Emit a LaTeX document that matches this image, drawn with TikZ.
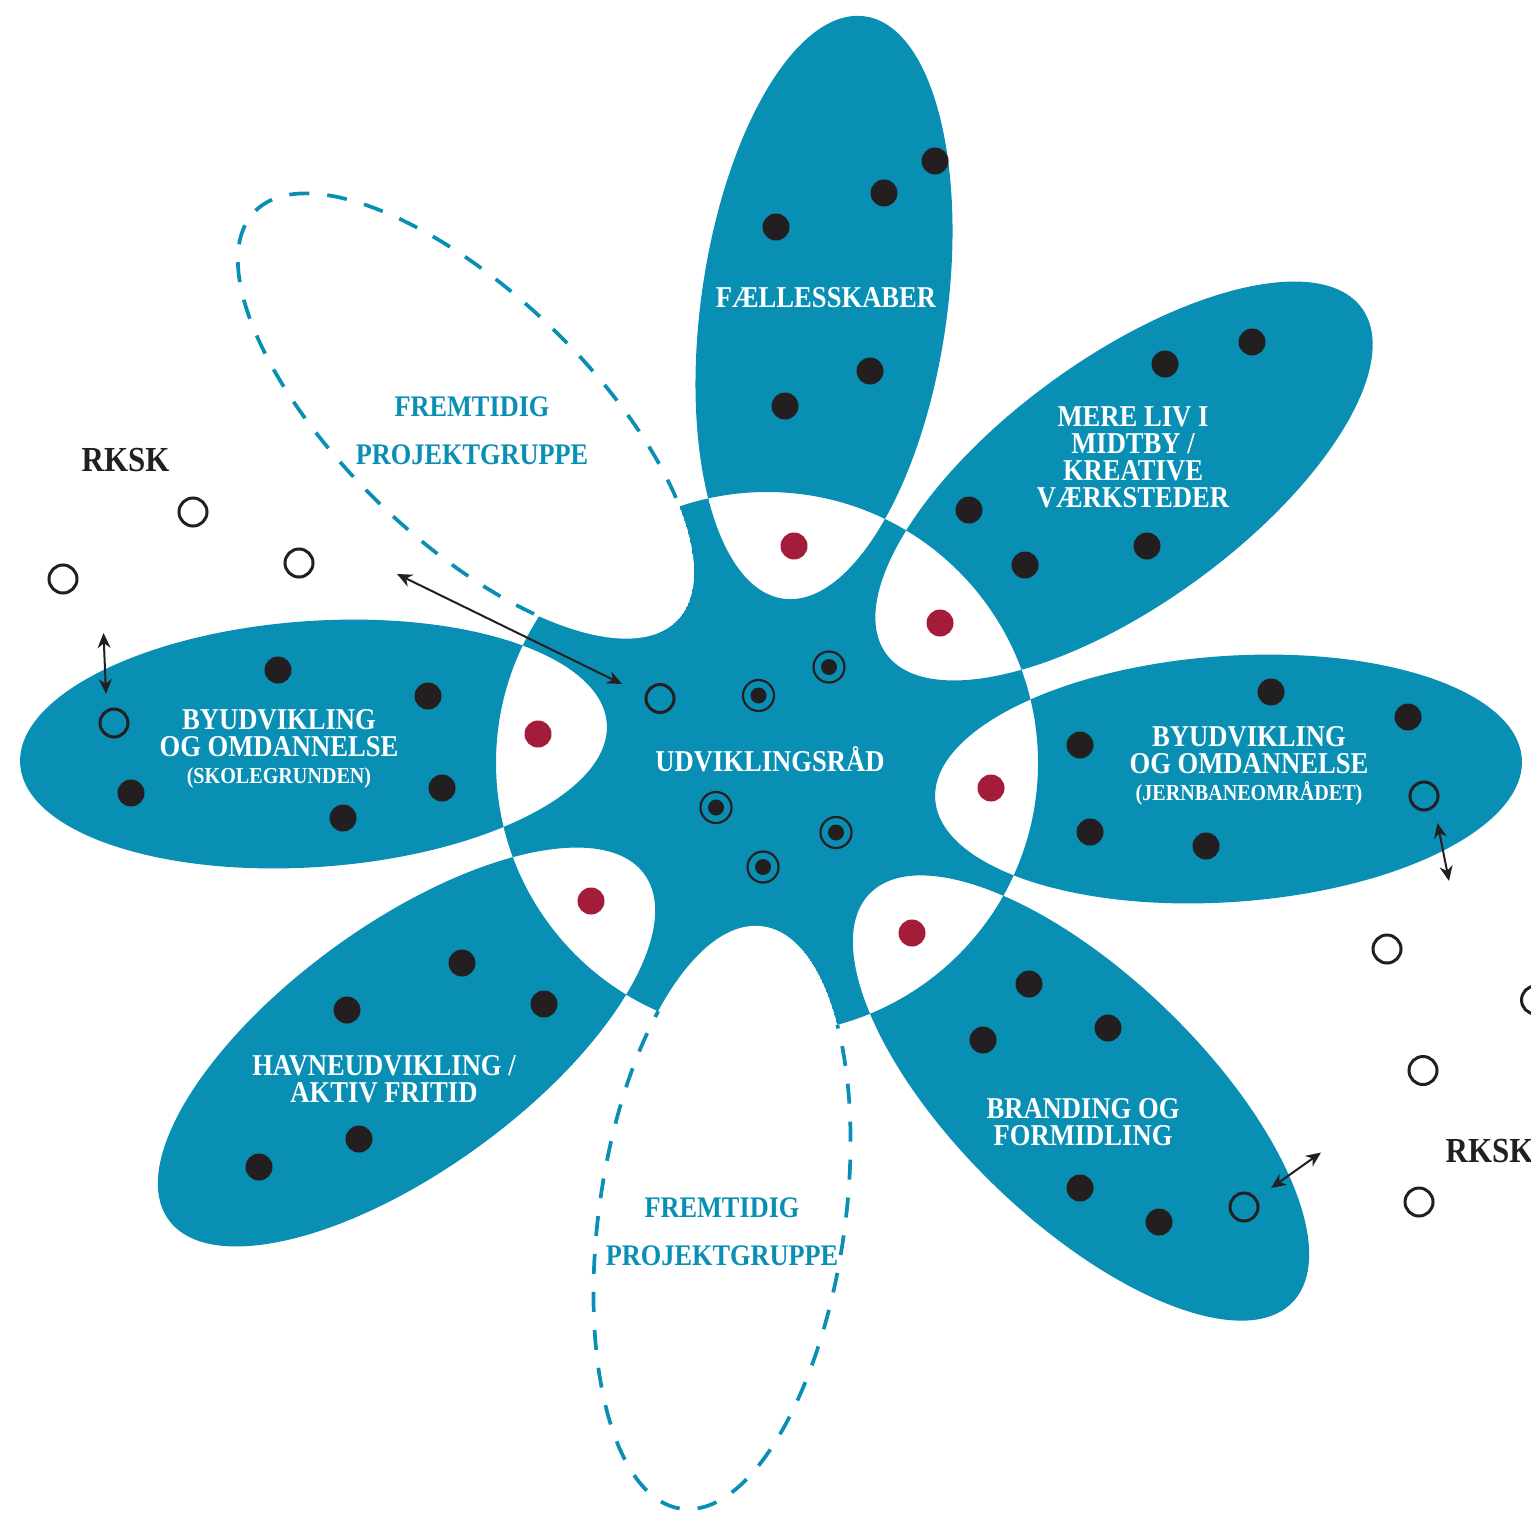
\documentclass[tikz,border=0pt]{standalone}
\usepackage{fontspec}
\setmainfont{Liberation Serif}[FakeStretch=0.88]
\usetikzlibrary{arrows.meta}
\definecolor{flower}{RGB}{10,143,180}
\definecolor{reddot}{RGB}{163,28,58}
\definecolor{ink}{RGB}{35,31,32}

\newcommand{\hubpath}{\pgfpathellipse{\pgfpointxy{767}{763}}{\pgfpointxy{271}{0}}{\pgfpointxy{0}{271}}}
\newcommand{\petalpath}[4]{\pgfpathellipse{\pgfpointxy{#1}{#2}}{\pgfpointpolarxy{#3}{294}}{\pgfpointpolarxy{#4}{123}}}
\newcommand{\allpetals}{%
 \petalpath{824}{307.5}{-82}{8}%
 \petalpath{1124}{481}{-36}{54}%
 \petalpath{1228.5}{779}{-4}{86}%
 \petalpath{1081}{1098}{44}{134}%
 \petalpath{406.5}{1047}{-36}{54}%
 \petalpath{313.5}{744}{-4}{86}}
\newcommand{\dashedA}{\petalpath{466}{416}{44}{134}}
\newcommand{\dashedB}{\petalpath{722}{1217.5}{-82}{8}}

\tikzset{
 bdot/.style={circle, fill=ink, inner sep=0pt, minimum size=2.7mm},
 rdot/.style={circle, fill=reddot, inner sep=0pt, minimum size=2.7mm},
 ring/.style={circle, draw=ink, line width=0.3mm, inner sep=0pt, minimum size=2.8mm},
 tring/.style={circle, draw=ink, line width=0.22mm, inner sep=0pt, minimum size=3.1mm},
 tdot/.style={circle, fill=ink, inner sep=0pt, minimum size=1.6mm},
 lab/.style={text=white, font=\bfseries\fontsize{8.6}{7.7}\selectfont, align=center, inner sep=0pt},
 future/.style={text=flower, font=\bfseries\fontsize{8.5}{13.7}\selectfont, align=center, inner sep=0pt},
 rksk/.style={text=ink, font=\bfseries\fontsize{10}{12}\selectfont, inner sep=0pt},
 dashline/.style={draw=flower, line width=0.37mm, dash pattern=on 2mm off 1.8mm},
 dbl/.style={draw=ink, line width=0.2mm, >={Stealth[length=1.5mm,width=1.3mm]}, <->}
}
\newcommand{\subline}{\fontsize{6.5}{7.2}\selectfont}

\begin{document}
\begin{tikzpicture}[x=0.01cm,y=-0.01cm]
\useasboundingbox (0,0) rectangle (1531,1512);
\clip (0,0) rectangle (1531,1512);

% flower body (even-odd)
\begin{scope}
 \pgfsetfillcolor{flower}
 \hubpath\allpetals
 \pgfseteorule
 \pgfusepath{fill}
\end{scope}
% bays of the dashed petals: inside each dashed ellipse only the petals count
\begin{scope}
 \dashedA\pgfusepath{clip}
 \pgfsetfillcolor{white}
 \dashedA\pgfusepath{fill}
 \pgfsetfillcolor{flower}
 \allpetals\pgfseteorule\pgfusepath{fill}
\end{scope}
\begin{scope}
 \dashedB\pgfusepath{clip}
 \pgfsetfillcolor{white}
 \dashedB\pgfusepath{fill}
 \pgfsetfillcolor{flower}
 \allpetals\pgfseteorule\pgfusepath{fill}
\end{scope}

% dashed outlines, only outside the hub
\begin{scope}
 \pgfpathmoveto{\pgfpointxy{0}{0}}
 \pgfpathlineto{\pgfpointxy{0}{1512}}
 \pgfpathlineto{\pgfpointxy{1531}{1512}}
 \pgfpathlineto{\pgfpointxy{1531}{0}}
 \pgfpathclose
 \hubpath
 \pgfseteorule
 \pgfusepath{clip}
 \draw[dashline, rotate around={-44:(466,416)}] (466,416) ellipse [x radius=294, y radius=123];
 \draw[dashline, rotate around={82:(722,1217.5)}] (722,1217.5) ellipse [x radius=294, y radius=123];
\end{scope}

% labels
\node[lab, anchor=base] (lFael) at (826,307) {FÆLLESSKABER};
\node[lab] (lMere) at (1133,457) {MERE LIV I\\MIDTBY /\\KREATIVE\\VÆRKSTEDER};
\node[lab] (lByL) at (279,749) {BYUDVIKLING\\OG OMDANNELSE\\{\subline (SKOLEGRUNDEN)}};
\node[lab] (lByR) at (1249,766) {BYUDVIKLING\\OG OMDANNELSE\\{\subline (JERNBANEOMRÅDET)}};
\node[lab] (lBrand) at (1083,1122.5) {BRANDING OG\\FORMIDLING};
\node[lab] (lHavn) at (384,1079) {HAVNEUDVIKLING /\\AKTIV FRITID};
\node[lab, anchor=base] (lHub) at (770,771) {UDVIKLINGSRÅD};
\node[future] (lFutA) at (472,431) {FREMTIDIG\\PROJEKTGRUPPE};
\node[future] (lFutB) at (722,1232) {FREMTIDIG\\PROJEKTGRUPPE};
\node[rksk, anchor=base west] (rkskL) at (81,471.5) {RKSK};
\node[rksk, anchor=base west] (rkskR) at (1445,1162.5) {RKSK};

% black dots
\node[bdot] (t1) at (935,161) {};
\node[bdot] (t2) at (884,193) {};
\node[bdot] (t3) at (776,227) {};
\node[bdot] (t4) at (870,371) {};
\node[bdot] (t5) at (785,406) {};
\node[bdot] (m1) at (1252,342) {};
\node[bdot] (m2) at (1165,364) {};
\node[bdot] (m3) at (969,510) {};
\node[bdot] (m4) at (1025,565) {};
\node[bdot] (m5) at (1147,546) {};
\node[bdot] (r1) at (1271,692) {};
\node[bdot] (r2) at (1408,717) {};
\node[bdot] (r3) at (1080,745) {};
\node[bdot] (r4) at (1090,832) {};
\node[bdot] (r5) at (1206,846) {};
\node[bdot] (b1) at (1029,984) {};
\node[bdot] (b2) at (983,1040) {};
\node[bdot] (b3) at (1108,1028) {};
\node[bdot] (b4) at (1080,1188) {};
\node[bdot] (b5) at (1159,1222) {};
\node[bdot] (h1) at (462,963) {};
\node[bdot] (h2) at (347,1010) {};
\node[bdot] (h3) at (544,1004) {};
\node[bdot] (h4) at (359,1139) {};
\node[bdot] (h5) at (259,1167) {};
\node[bdot] (s1) at (278,670) {};
\node[bdot] (s2) at (428,696) {};
\node[bdot] (s3) at (131,793) {};
\node[bdot] (s4) at (442,788) {};
\node[bdot] (s5) at (343,818) {};

% red dots
\node[rdot] (q1) at (794,546) {};
\node[rdot] (q2) at (940,623) {};
\node[rdot] (q3) at (991,788) {};
\node[rdot] (q4) at (912,933) {};
\node[rdot] (q5) at (591,901) {};
\node[rdot] (q6) at (538,734) {};

% targets in the hub
\node[tring] (c1) at (758.5,695.5) {}; \node[tdot] (c1d) at (c1) {};
\node[tring] (c2) at (829,667) {};   \node[tdot] (c2d) at (c2) {};
\node[tring] (c3) at (716,807.5) {}; \node[tdot] (c3d) at (c3) {};
\node[tring] (c4) at (836,832.5) {}; \node[tdot] (c4d) at (c4) {};
\node[tring] (c5) at (763,867) {};   \node[tdot] (c5d) at (c5) {};

% open circles
\node[ring] (o1) at (193,512) {};
\node[ring] (o2) at (63,579) {};
\node[ring] (o3) at (299,563) {};
\node[ring] (o4) at (114,723) {};
\node[ring] (o5) at (660,698.5) {};
\node[ring] (o6) at (1424,796) {};
\node[ring] (o7) at (1387,949) {};
\node[ring] (o8) at (1535.5,1000) {};
\node[ring] (o9) at (1423,1070.5) {};
\node[ring] (o10) at (1419,1202) {};
\node[ring] (o11) at (1244,1207) {};

% double arrows
\coordinate (a1s) at (103.5,633);
\coordinate (a1e) at (106,694);
\coordinate (a2s) at (397,574);
\coordinate (a2e) at (622,684);
\coordinate (a3s) at (1437.5,823);
\coordinate (a3e) at (1449,881);
\coordinate (a4s) at (1271,1188);
\coordinate (a4e) at (1321,1152.5);
\draw[dbl] (a1s) -- (a1e);
\draw[dbl] (a2s) -- (a2e);
\draw[dbl] (a3s) -- (a3e);
\draw[dbl] (a4s) -- (a4e);
\end{tikzpicture}
\end{document}
